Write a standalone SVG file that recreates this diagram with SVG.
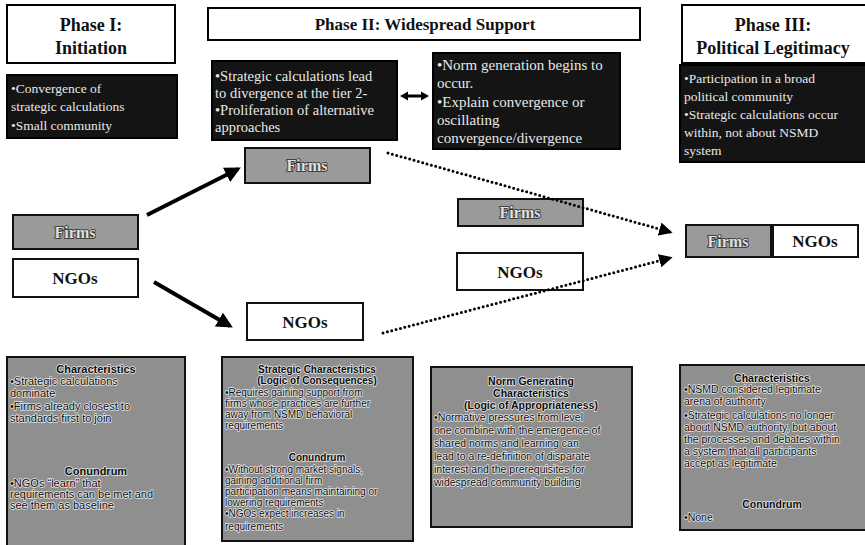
<svg xmlns="http://www.w3.org/2000/svg" width="865" height="545" viewBox="0 0 865 545">
<defs>
<style>
.hdr{fill:#fff;stroke:#000;stroke-width:2}
.htx{font-family:"Liberation Serif",serif;font-weight:bold;font-size:18px;fill:#111;text-anchor:middle}
.blk{fill:#141414;stroke:#000;stroke-width:2}
.btx{font-family:"Liberation Serif",serif;fill:#e8e8e8}
.b1{font-size:13.5px}
.b2{font-size:14.5px}
.b3{font-size:15px}
.grey{fill:#9a9a9a;stroke:#111;stroke-width:2}
.white{fill:#fff;stroke:#111;stroke-width:2}
.ftx{font-family:"Liberation Serif",serif;font-weight:bold;font-size:16px;fill:#e2e2e2;stroke:#2a2a2a;stroke-width:1.6;paint-order:stroke;stroke-linejoin:round;text-anchor:middle}
.ntx{font-family:"Liberation Serif",serif;font-weight:bold;font-size:17px;fill:#111;text-anchor:middle}
.card{fill:#8f8f8f;stroke:#111;stroke-width:2}
.ctx{font-family:"Liberation Sans",Arial,sans-serif;fill:#0a0a0a;stroke:#ececec;stroke-width:1.4;paint-order:stroke;stroke-linejoin:round}
.c10{font-size:10px}
.c105{font-size:10.5px}
.c11{font-size:11px}
.cb{font-weight:bold;text-anchor:middle}
.solid{stroke:#000;stroke-width:4;fill:none}
.dot{stroke:#000;stroke-width:3;fill:none;stroke-dasharray:0 4.5;stroke-linecap:round}
</style>
<marker id="ah" viewBox="0 0 10 10" refX="8" refY="5" markerWidth="4" markerHeight="4" orient="auto" markerUnits="strokeWidth">
<path d="M0,0 L10,5 L0,10 z" fill="#000"/>
</marker>
<marker id="ahd" viewBox="0 0 10 10" refX="8" refY="5" markerWidth="4.5" markerHeight="4.5" orient="auto" markerUnits="strokeWidth">
<path d="M0,0 L10,5 L0,10 z" fill="#000"/>
</marker>
</defs>
<rect width="865" height="545" fill="#fff"/>

<g id="phase1-header">
<rect class="hdr" x="7" y="5" width="168" height="58"/>
<text class="htx" x="91" y="31">Phase I:</text>
<text class="htx" x="91" y="54">Initiation</text>
</g>
<g id="phase2-header">
<rect class="hdr" x="208" y="8" width="432" height="32"/>
<text class="htx" x="425" y="30" style="font-size:17px">Phase II: Widespread Support</text>
</g>
<g id="phase3-header">
<rect class="hdr" x="682" y="5" width="190" height="58"/>
<text class="htx" x="773" y="31">Phase III:</text>
<text class="htx" x="773" y="54">Political Legitimacy</text>
</g>

<g id="phase1-notes">
<rect class="blk" x="7" y="75" width="170" height="63"/>
<text class="btx b1" x="11" y="93">•Convergence of</text>
<text class="btx b1" x="11" y="111">strategic calculations</text>
<text class="btx b1" x="11" y="130">•Small community</text>
</g>
<g id="phase2-notes-a">
<rect class="blk" x="212" y="61" width="185" height="79"/>
<text class="btx b2" x="215" y="81">•Strategic calculations lead</text>
<text class="btx b2" x="215" y="98">to divergence at the tier 2-</text>
<text class="btx b2" x="215" y="115">•Proliferation of alternative</text>
<text class="btx b2" x="215" y="132">approaches</text>
</g>
<g id="phase2-notes-b">
<rect class="blk" x="433" y="53" width="187" height="96"/>
<text class="btx b3" x="437" y="70">•Norm generation begins to</text>
<text class="btx b3" x="437" y="88">occur.</text>
<text class="btx b3" x="437" y="107">•Explain convergence or</text>
<text class="btx b3" x="437" y="125">oscillating</text>
<text class="btx b3" x="437" y="143">convergence/divergence</text>
</g>
<g id="phase3-notes">
<rect class="blk" x="680" y="65" width="192" height="97"/>
<text class="btx b1" x="684" y="83">•Participation in a broad</text>
<text class="btx b1" x="684" y="101">political community</text>
<text class="btx b1" x="684" y="119">•Strategic calculations occur</text>
<text class="btx b1" x="684" y="137">within, not about NSMD</text>
<text class="btx b1" x="684" y="155">system</text>
</g>

<g id="firms-1">
<rect class="grey" x="13" y="215" width="125" height="34"/>
<text class="ftx" x="75" y="238">Firms</text>
</g>
<g id="ngos-1">
<rect class="white" x="13" y="259" width="125" height="38"/>
<text class="ntx" x="75" y="284">NGOs</text>
</g>
<g id="firms-2">
<rect class="grey" x="245" y="148" width="125" height="35"/>
<text class="ftx" x="307" y="171">Firms</text>
</g>
<g id="ngos-2">
<rect class="white" x="247" y="303" width="116" height="37"/>
<text class="ntx" x="305" y="328">NGOs</text>
</g>
<g id="firms-2b">
<rect class="grey" x="458" y="199" width="125" height="27"/>
<text class="ftx" x="520" y="218">Firms</text>
</g>
<g id="ngos-2b">
<rect class="white" x="457" y="253" width="126" height="37"/>
<text class="ntx" x="520" y="278">NGOs</text>
</g>
<g id="firms-3">
<rect class="grey" x="686" y="225" width="85" height="32"/>
<text class="ftx" x="728" y="247">Firms</text>
</g>
<g id="ngos-3">
<rect class="white" x="773" y="225" width="85" height="32"/>
<text class="ntx" x="815" y="247">NGOs</text>
</g>

<g id="card-1">
<rect class="card" x="7" y="357" width="178" height="195"/>
<text class="ctx c11 cb" x="96" y="373">Characteristics</text>
<text class="ctx c11" x="10" y="385">•Strategic calculations</text>
<text class="ctx c11" x="10" y="397">dominate</text>
<text class="ctx c11" x="10" y="410">•Firms already closest to</text>
<text class="ctx c11" x="10" y="422">standards first to join</text>
<text class="ctx c11 cb" x="96" y="475">Conundrum</text>
<text class="ctx c11" x="10" y="487">•NGOs “learn” that</text>
<text class="ctx c11" x="10" y="498">requirements can be met and</text>
<text class="ctx c11" x="10" y="509">see them as baseline</text>
</g>
<g id="card-2">
<rect class="card" x="222" y="357" width="191" height="184"/>
<text class="ctx c10 cb" x="317" y="373">Strategic Characteristics</text>
<text class="ctx c10 cb" x="317" y="384">(Logic of Consequences)</text>
<text class="ctx c10" x="225" y="396">•Requires gaining support from</text>
<text class="ctx c10" x="225" y="407">firms whose practices are further</text>
<text class="ctx c10" x="225" y="418">away from NSMD behavioral</text>
<text class="ctx c10" x="225" y="429">requirements</text>
<text class="ctx c10 cb" x="317" y="461">Conundrum</text>
<text class="ctx c10" x="225" y="473">•Without strong market signals,</text>
<text class="ctx c10" x="225" y="484">gaining additional firm</text>
<text class="ctx c10" x="225" y="495">participation means maintaining or</text>
<text class="ctx c10" x="225" y="506">lowering requirements</text>
<text class="ctx c10" x="225" y="517">•NGOs expect increases in</text>
<text class="ctx c10" x="225" y="530">requirements</text>
</g>
<g id="card-3">
<rect class="card" x="431" y="367" width="201" height="160"/>
<text class="ctx c105 cb" x="531" y="385">Norm Generating</text>
<text class="ctx c105 cb" x="531" y="397">Characteristics</text>
<text class="ctx c105 cb" x="531" y="409">(Logic of Appropriateness)</text>
<text class="ctx c105" x="434" y="421">•Normative pressures from level</text>
<text class="ctx c105" x="434" y="434">one combine with the emergence of</text>
<text class="ctx c105" x="434" y="447">shared norms and learning can</text>
<text class="ctx c105" x="434" y="460">lead to a re-definition of disparate</text>
<text class="ctx c105" x="434" y="473">interest and the prerequisites for</text>
<text class="ctx c105" x="434" y="486">widespread community building</text>
</g>
<g id="card-4">
<rect class="card" x="680" y="365" width="192" height="165"/>
<text class="ctx c105 cb" x="772" y="382">Characteristics</text>
<text class="ctx c105" x="684" y="393">•NSMD considered legitimate</text>
<text class="ctx c105" x="684" y="405">arena of authority</text>
<text class="ctx c105" x="684" y="419">•Strategic calculations no longer</text>
<text class="ctx c105" x="684" y="431">about NSMD authority, but about</text>
<text class="ctx c105" x="684" y="443">the processes and debates within</text>
<text class="ctx c105" x="684" y="455">a system that all participants</text>
<text class="ctx c105" x="684" y="467">accept as legitimate</text>
<text class="ctx c105 cb" x="772" y="508">Conundrum</text>
<text class="ctx c105" x="684" y="521">•None</text>
</g>

<g id="connectors">
<line class="solid" x1="147" y1="215" x2="238" y2="169" marker-end="url(#ah)"/>
<line class="solid" x1="154" y1="282" x2="230" y2="326" marker-end="url(#ah)"/>
<g id="double-arrow">
<line x1="406" y1="96" x2="422" y2="96" stroke="#000" stroke-width="3"/>
<path d="M400,96 L408,91.5 L408,100.5 z" fill="#000"/>
<path d="M429,96 L421,91.5 L421,100.5 z" fill="#000"/>
</g>
<line class="dot" x1="388" y1="153" x2="670" y2="232" marker-end="url(#ahd)"/>
<line class="dot" x1="383" y1="333" x2="670" y2="258" marker-end="url(#ahd)"/>
</g>
</svg>
